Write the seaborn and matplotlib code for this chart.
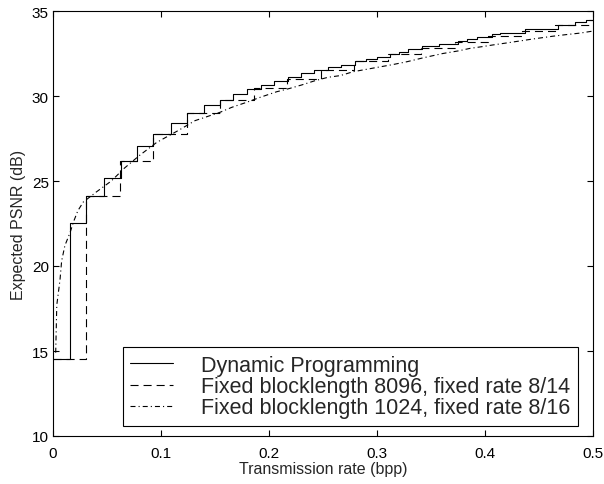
import matplotlib
matplotlib.use("Agg")
import matplotlib.pyplot as plt
import pandas as pd
import seaborn as sns

# ---- data ----
dp_rate = [0.0, 0.0155, 0.0308, 0.0469, 0.0627, 0.0781, 0.0929, 0.109, 0.1244,
           0.1401, 0.1546, 0.1667, 0.1796, 0.1926, 0.2046, 0.2176, 0.2296,
           0.2417, 0.2546, 0.2667, 0.2796, 0.2898, 0.300, 0.312, 0.3204,
           0.3287, 0.3417, 0.3574, 0.375, 0.3833, 0.3926, 0.4065, 0.4139,
           0.437, 0.4676, 0.4833, 0.4935, 0.5]
dp_psnr = [14.53, 22.51, 24.12, 25.2, 26.18, 27.06, 27.78, 28.41, 28.98,
           29.49, 29.78, 30.12, 30.41, 30.66, 30.86, 31.14, 31.33,
           31.53, 31.68, 31.85, 32.06, 32.15, 32.31, 32.48, 32.57,
           32.76, 32.92, 33.04, 33.25, 33.36, 33.47, 33.62, 33.72,
           33.94, 34.18, 34.35, 34.5, 34.5]

fb8096_rate = [0.0, 0.031, 0.062, 0.0926, 0.124, 0.155, 0.186, 0.217, 0.248,
               0.279, 0.31, 0.341, 0.372, 0.403, 0.434, 0.465, 0.496, 0.5]
fb8096_psnr = [14.53, 24.12, 26.18, 27.78, 28.98, 29.78, 30.45, 31.0, 31.55,
               32.05, 32.45, 32.85, 33.2, 33.55, 33.85, 34.2, 34.45, 34.45]

fb1024_rate = [0.0025, 0.0035, 0.0065, 0.008, 0.011, 0.016, 0.019, 0.023,
               0.028, 0.04, 0.054, 0.066, 0.08, 0.096, 0.1157, 0.1315,
               0.1546, 0.1654, 0.1793, 0.1917, 0.2071, 0.2194, 0.2303,
               0.2426, 0.2546, 0.266, 0.278, 0.292, 0.306, 0.314, 0.328,
               0.343, 0.361, 0.375, 0.386, 0.397, 0.407, 0.42, 0.444,
               0.462, 0.475, 0.488, 0.5]
fb1024_psnr = [14.9, 17.7, 19.2, 20.3, 21.2, 22.0, 22.6, 23.25,
               23.76, 24.35, 25.0, 25.75, 26.5, 27.27, 27.96, 28.55,
               29.04, 29.33, 29.63, 29.92, 30.25, 30.45, 30.65,
               30.9, 31.1, 31.2, 31.43, 31.59, 31.75, 31.84, 32.02,
               32.25, 32.5, 32.65, 32.8, 32.9, 33.0, 33.12, 33.35,
               33.51, 33.61, 33.7, 33.82]

labels = ["Dynamic Programming",
          "Fixed blocklength 8096, fixed rate 8/14",
          "Fixed blocklength 1024, fixed rate 8/16"]
x_ticks = [0, 0.1, 0.2, 0.3, 0.4, 0.5]
x_ticklabels = ["0", "0.1", "0.2", "0.3", "0.4", "0.5"]
y_ticks = [10, 15, 20, 25, 30, 35]

# ---- style ----
sns.set_theme(style="ticks")
plt.rcParams["font.family"] = ["Liberation Sans", "DejaVu Sans"]
plt.rcParams.update({
    "lines.scale_dashes": False,
    "axes.linewidth": 0.8,
    "axes.edgecolor": "black",
    "xtick.direction": "in",
    "ytick.direction": "in",
    "xtick.top": True,
    "ytick.right": True,
    "xtick.major.size": 4,
    "ytick.major.size": 4,
    "xtick.major.width": 0.8,
    "ytick.major.width": 0.8,
    "xtick.color": "black",
    "ytick.color": "black",
})

fig = plt.figure(figsize=(6.04, 4.85), dpi=100)
ax = fig.add_axes([53 / 604, 1 - 437 / 485, 540 / 604, 425 / 485])

df_dp = pd.DataFrame({"rate": dp_rate, "psnr": dp_psnr})
df_8096 = pd.DataFrame({"rate": fb8096_rate, "psnr": fb8096_psnr})
df_1024 = pd.DataFrame({"rate": fb1024_rate, "psnr": fb1024_psnr})

sns.lineplot(data=df_dp, x="rate", y="psnr", ax=ax, color="black",
             linewidth=0.8, drawstyle="steps-post", label=labels[0],
             sort=False, estimator=None)
sns.lineplot(data=df_8096, x="rate", y="psnr", ax=ax, color="black",
             linewidth=0.8, drawstyle="steps-post", label=labels[1],
             sort=False, estimator=None)
sns.lineplot(data=df_1024, x="rate", y="psnr", ax=ax, color="black",
             linewidth=0.8, label=labels[2], sort=False, estimator=None)

lines = ax.get_lines()
lines[1].set_dashes((5.8, 3.6))
lines[2].set_dashes((3.6, 2.2, 0.8, 2.2))

ax.set_xlim(0, 0.5)
ax.set_ylim(10, 35)
ax.set_xticks(x_ticks)
ax.set_xticklabels(x_ticklabels)
ax.set_yticks(y_ticks)
ax.tick_params(axis="x", labelsize=11, pad=7)
ax.tick_params(axis="y", labelsize=11, pad=3)
ax.set_xlabel("Transmission rate (bpp)", fontsize=11.5, labelpad=1)
ax.set_ylabel("Expected PSNR (dB)", fontsize=11.5, labelpad=4)

leg = ax.legend(handles=ax.get_lines(), labels=labels,
                loc="lower right", bbox_to_anchor=(0.972, 0.0235),
                fontsize=15.5, frameon=True, fancybox=False, framealpha=1,
                edgecolor="black", handlelength=2.0, handletextpad=1.3,
                borderpad=0.35, labelspacing=0.02, borderaxespad=0)
leg.get_frame().set_linewidth(0.8)
for h in leg.get_lines():
    h.set_linewidth(0.8)

fig.savefig("out.png", dpi=100)
